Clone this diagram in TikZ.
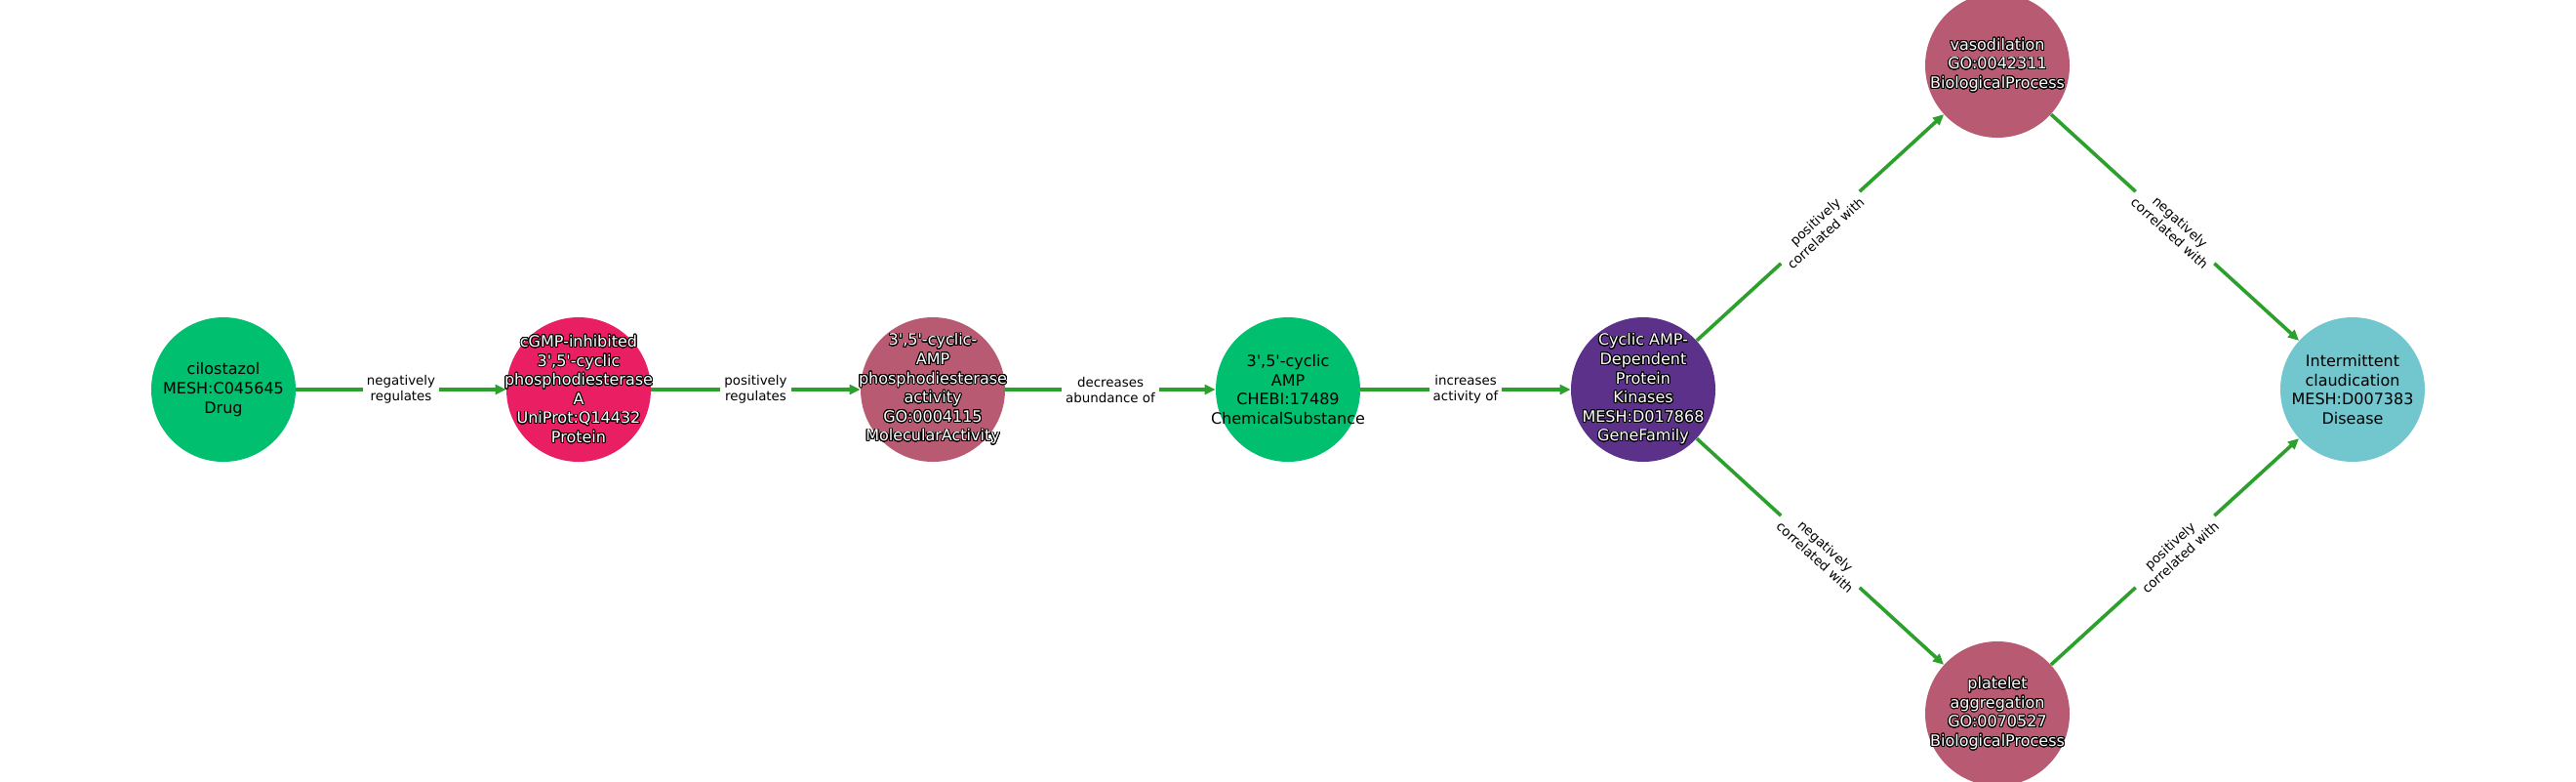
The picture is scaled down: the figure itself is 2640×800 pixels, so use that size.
\documentclass[tikz,border=0pt]{standalone}
\usepackage{fontspec}
\setmainfont{DejaVu Sans}[Ligatures=TeXOff]
\usepackage[copies]{contour}
\contourlength{0.45pt}
\contournumber{24}
\usetikzlibrary{arrows.meta}
\definecolor{drugc}{RGB}{0,192,111}
\definecolor{protc}{RGB}{233,30,99}
\definecolor{mauvec}{RGB}{184,90,114}
\definecolor{purpc}{RGB}{91,49,138}
\definecolor{disc}{RGB}{114,198,205}
\definecolor{edgec}{RGB}{44,160,44}
\newcommand\wt[1]{\contour{black}{#1}}
\begin{document}
\begin{tikzpicture}[x=0.5pt,y=-0.5pt,
  nd/.style={circle, inner sep=0pt, minimum size=74pt, draw=none},
  lbl/.style={align=center, inner sep=0pt, font=\fontsize{8}{9.8}\selectfont, text=black},
  wlbl/.style={lbl, text=white},
  edge/.style={draw=edgec, line width=1.8pt, -{Triangle[length=5.5pt,width=5pt]}},
  elabel/.style={fill=white, inner sep=2pt, align=center, font=\fontsize{6.7}{8}\selectfont, text=black}]
\useasboundingbox (0,0) rectangle (2640,800);
\fill[white] (0,0) rectangle (2640,800);
% nodes
\node[nd, fill=drugc] (n1) at (229,399) {};
\node[nd, fill=protc] (n2) at (593,399) {};
\node[nd, fill=mauvec] (n3) at (956,399) {};
\node[nd, fill=drugc] (n4) at (1320,399) {};
\node[nd, fill=purpc] (n5) at (1684,399) {};
\node[nd, fill=mauvec] (n6) at (2047,67) {};
\node[nd, fill=mauvec] (n7) at (2047,731) {};
\node[nd, fill=disc] (n8) at (2411,399) {};
% edges
\draw[edge] (n1) -- node[elabel] (e1) {negatively\\regulates} (n2);
\draw[edge] (n2) -- node[elabel] (e2) {positively\\regulates} (n3);
\draw[edge] (n3) -- node[elabel] (e3) {decreases\\abundance of} (n4);
\draw[edge] (n4) -- node[elabel] (e4) {increases\\activity of} (n5);
\draw[edge] (n5) -- node[elabel, sloped] (e5) {positively\\correlated with} (n6);
\draw[edge] (n5) -- node[elabel, sloped] (e6) {negatively\\correlated with} (n7);
\draw[edge] (n6) -- node[elabel, sloped] (e7) {negatively\\correlated with} (n8);
\draw[edge] (n7) -- node[elabel, sloped] (e8) {positively\\correlated with} (n8);
% node texts
\node[lbl] (t1) at (n1) {cilostazol\\MESH:C045645\\Drug};
\node[wlbl] (t2) at (n2) {\wt{cGMP-inhibited}\\\wt{3',5'-cyclic}\\\wt{phosphodiesterase}\\\wt{A}\\\wt{UniProt:Q14432}\\\wt{Protein}};
\node[wlbl] (t3) at (n3) {\wt{3',5'-cyclic-}\\\wt{AMP}\\\wt{phosphodiesterase}\\\wt{activity}\\\wt{GO:0004115}\\\wt{MolecularActivity}};
\node[lbl] (t4) at (n4) {3',5'-cyclic\\AMP\\CHEBI:17489\\ChemicalSubstance};
\node[wlbl] (t5) at (n5) {\wt{Cyclic AMP-}\\\wt{Dependent}\\\wt{Protein}\\\wt{Kinases}\\\wt{MESH:D017868}\\\wt{GeneFamily}};
\node[wlbl] (t6) at (n6) {\wt{vasodilation}\\\wt{GO:0042311}\\\wt{BiologicalProcess}};
\node[wlbl] (t7) at (n7) {\wt{platelet}\\\wt{aggregation}\\\wt{GO:0070527}\\\wt{BiologicalProcess}};
\node[lbl] (t8) at (n8) {Intermittent\\claudication\\MESH:D007383\\Disease};
\end{tikzpicture}
\end{document}
